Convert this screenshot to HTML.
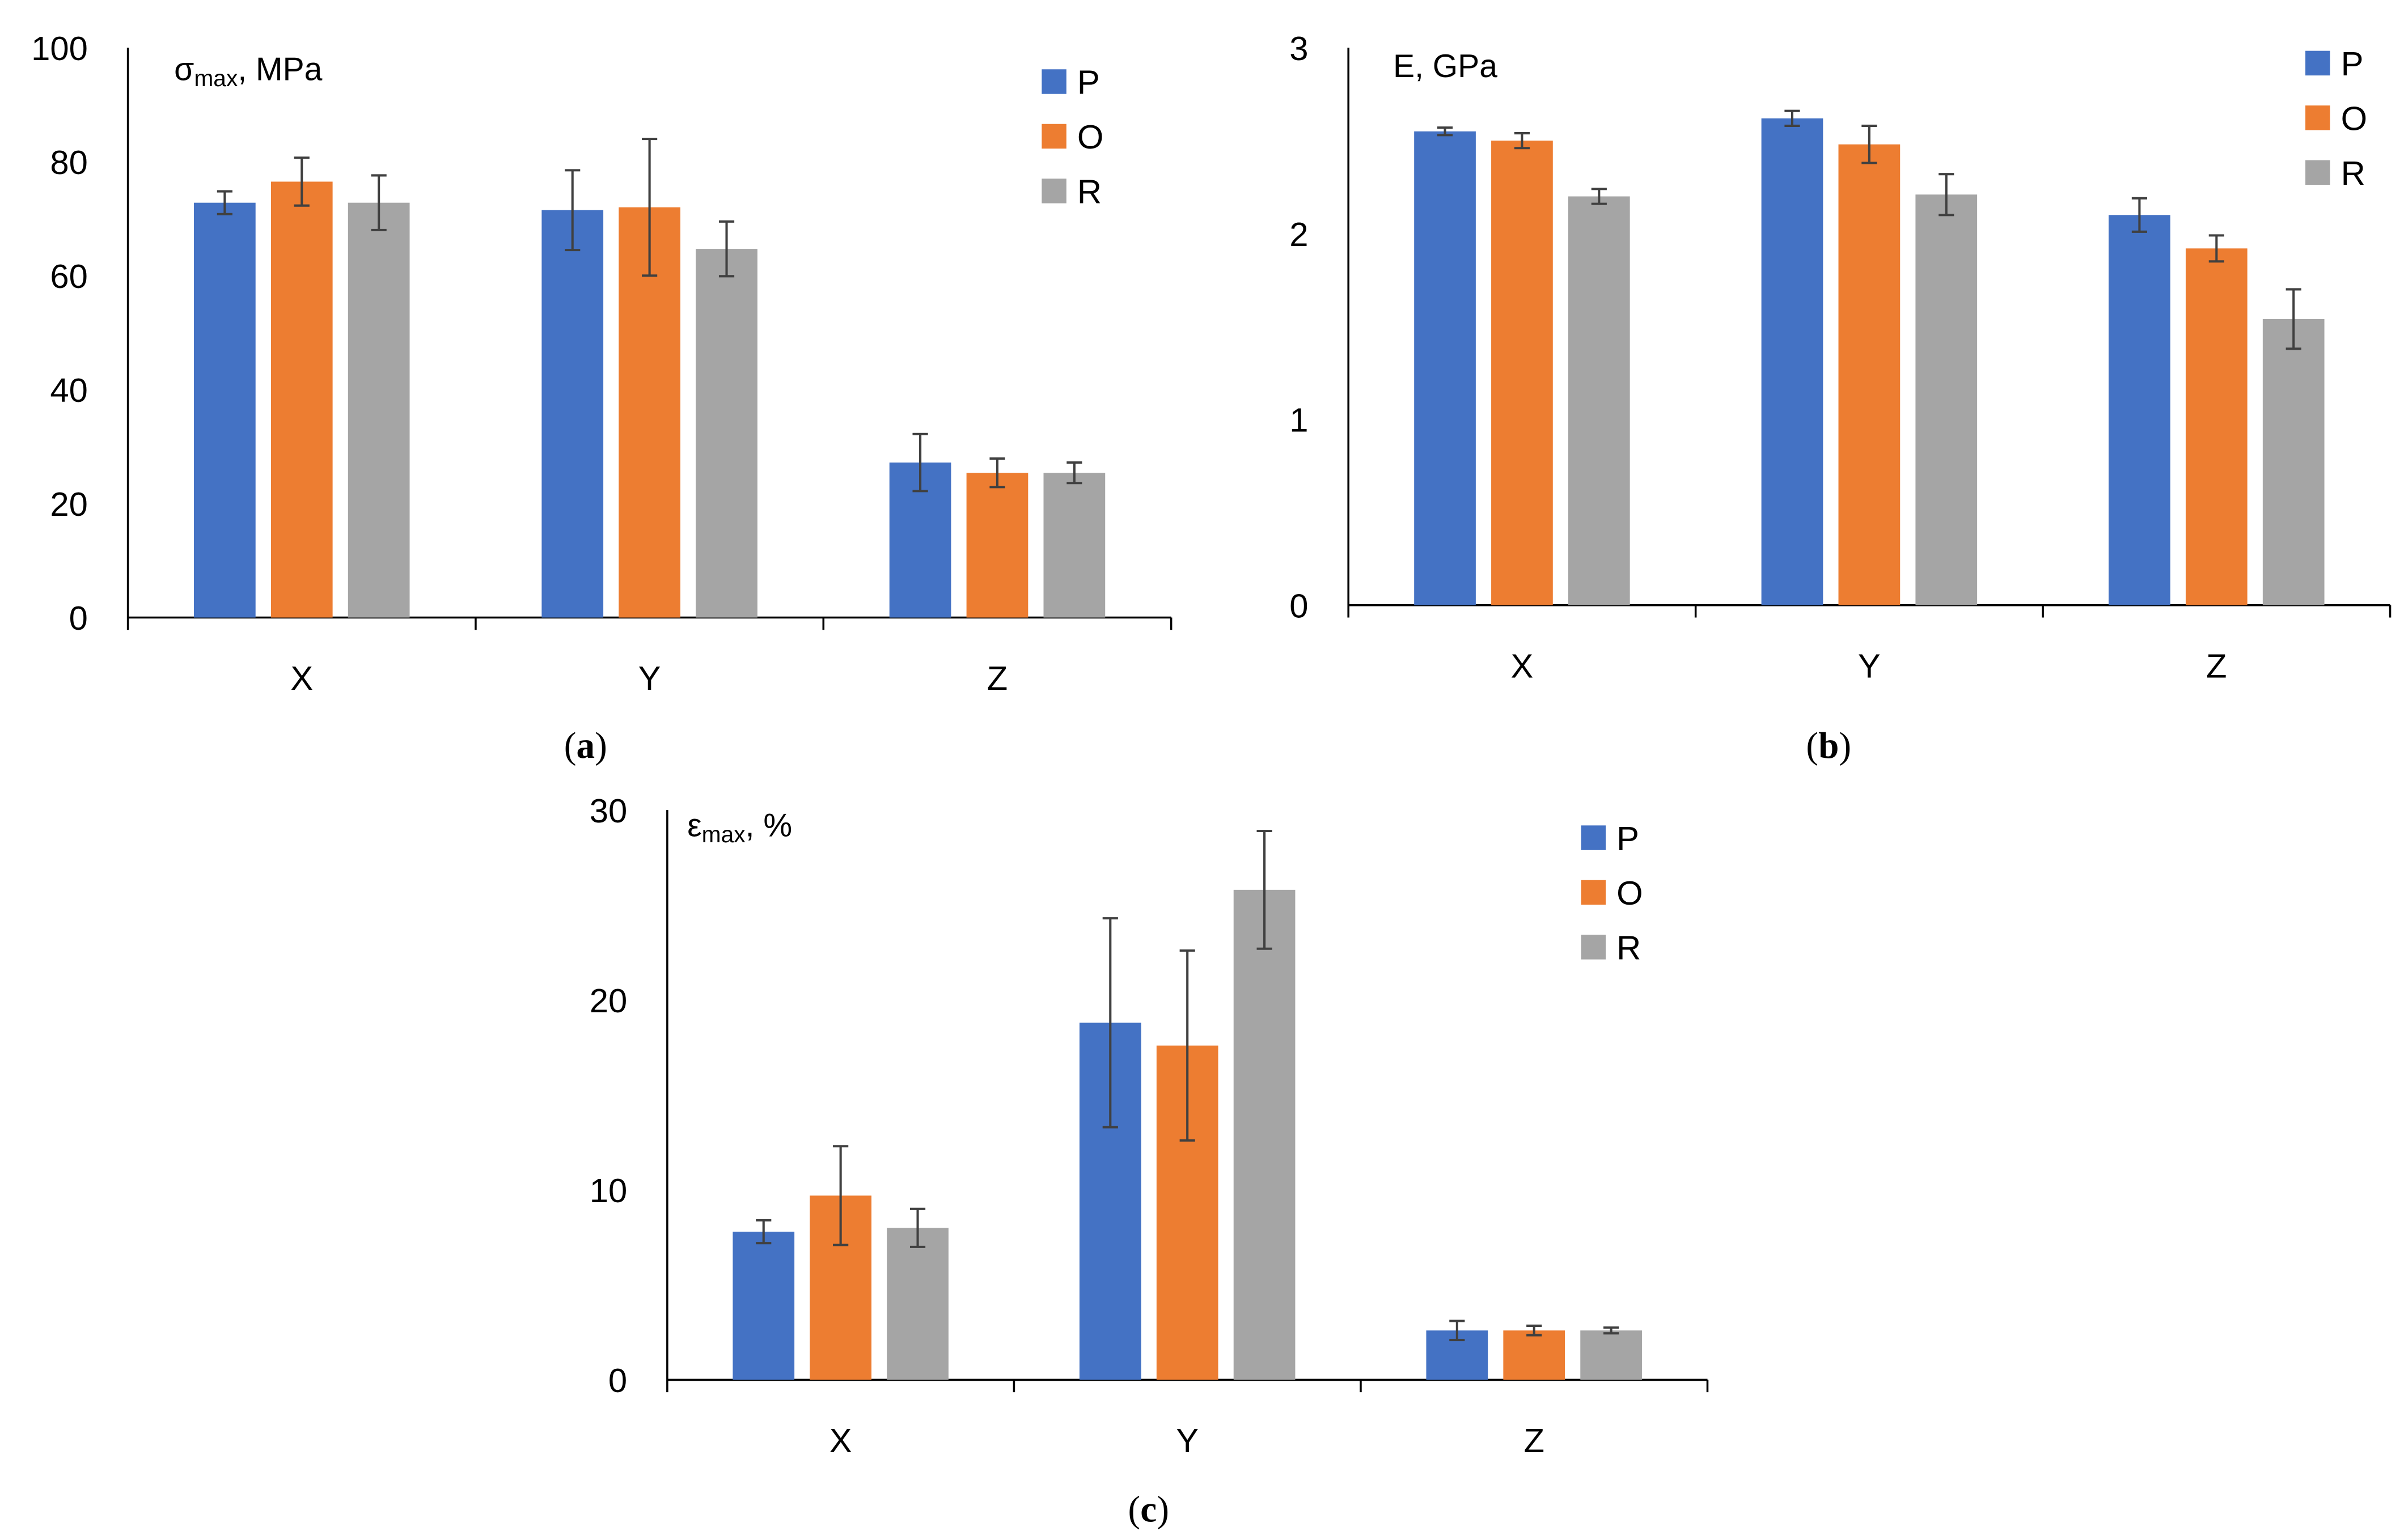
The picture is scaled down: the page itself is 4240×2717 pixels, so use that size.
<!DOCTYPE html>
<html><head><meta charset="utf-8"><style>
html,body{margin:0;padding:0;background:#fff;}
svg{display:block;}
text{font-family:"Liberation Sans",sans-serif;fill:#000;}
.cap{font-family:"Liberation Serif",serif;font-size:24px;}
</style></head><body>
<svg id="fig" width="4240" height="2717" viewBox="0 0 1560 1000" preserveAspectRatio="none" xmlns="http://www.w3.org/2000/svg">
<text class="cap" x="366" y="492">(<tspan font-weight="bold">a</tspan>)</text>
<text class="cap" x="1172" y="492">(<tspan font-weight="bold">b</tspan>)</text>
<text class="cap" x="732" y="988">(<tspan font-weight="bold">c</tspan>)</text>
</svg>
<script>
const categories = ["X","Y","Z"];
const seriesNames = ["P","O","R"];
const colors = ["#4472C4","#ED7D31","#A5A5A5"];
// chart a: sigma max, MPa
const aTicks = [0,20,40,60,80,100];
const aP = [72.8,71.5,27.2], aO = [76.5,72.0,25.4], aR = [72.8,64.7,25.4];
const aPe = [2.0,7.0,5.0], aOe = [4.2,12.0,2.5], aRe = [4.8,4.8,1.8];
// chart b: E, GPa
const bTicks = [0,1,2,3];
const bP = [2.55,2.62,2.10], bO = [2.50,2.48,1.92], bR = [2.20,2.21,1.54];
const bPe = [0.02,0.04,0.09], bOe = [0.04,0.10,0.07], bRe = [0.04,0.11,0.16];
// chart c: epsilon max, %
const cTicks = [0,10,20,30];
const cP = [7.8,18.8,2.6], cO = [9.7,17.6,2.6], cR = [8.0,25.8,2.6];
const cPe = [0.6,5.5,0.5], cOe = [2.6,5.0,0.25], cRe = [1.0,3.1,0.15];

const NS="http://www.w3.org/2000/svg";
const svg=document.getElementById('fig');
function mk(tag,attrs,parent){const e=document.createElementNS(NS,tag);for(const k in attrs)e.setAttribute(k,attrs[k]);(parent||svg).appendChild(e);return e;}

function chart(id,cfg,vals,errs,ticks){
  const g=mk('g',{});
  
  
  const yMax=ticks[ticks.length-1];
  const yS=v=>cfg.y0-(v/yMax)*(cfg.y0-cfg.y1);
  const band=(cfg.x1-cfg.x0)/categories.length;
  const xC=i=>cfg.x0+band*(i+0.5);
  ticks.forEach(t=>{
    const tx=mk('text',{x:cfg.x0-26,y:yS(t)+8,'text-anchor':'end','font-size':22,fill:'#000'},g);
    tx.textContent=t;
    
    
  });
  const ya=mk('line',{x1:cfg.x0,y1:cfg.y1,x2:cfg.x0,y2:cfg.y0,stroke:'#000','stroke-width':1.3},g);
  
  
  const xa=mk('line',{x1:cfg.x0,y1:cfg.y0,x2:cfg.x1,y2:cfg.y0,stroke:'#000','stroke-width':1.3},g);
  
  
  for(let i=0;i<=categories.length;i++){mk('line',{x1:cfg.x0+band*i,x2:cfg.x0+band*i,y1:cfg.y0,y2:cfg.y0+8,stroke:'#000','stroke-width':1.3},g);}
  categories.forEach((c,i)=>{
    const tx=mk('text',{x:xC(i),y:cfg.y0+47,'text-anchor':'middle','font-size':22},g);
    tx.textContent=c;
    
    
  });
  const bw=40, gap=50;
  vals.forEach((arr,s)=>{
    arr.forEach((v,i)=>{
      const cx=xC(i)+(s-1)*gap;
      const r=mk('rect',{x:cx-bw/2,y:yS(v),width:bw,height:cfg.y0-yS(v),fill:colors[s]},g);
      
      
      const e=errs[s][i];
      const eg=mk('g',{stroke:'#404040','stroke-width':1.5},g);
      
      
      mk('line',{x1:cx,x2:cx,y1:yS(v+e),y2:yS(v-e)},eg);
      mk('line',{x1:cx-5,x2:cx+5,y1:yS(v+e),y2:yS(v+e)},eg);
      mk('line',{x1:cx-5,x2:cx+5,y1:yS(v-e),y2:yS(v-e)},eg);
    });
  });
  seriesNames.forEach((n,s)=>{
    const y=cfg.ly+s*35.5;
    const le=mk('g',{},g);
    
    
    mk('rect',{x:cfg.lx,y:y-8,width:16,height:16,fill:colors[s]},le);
    const t=mk('text',{x:cfg.lx+23,y:y+8,'font-size':22},le);
    t.textContent=n;
  });
  return g;
}
const ga=chart('chart-a-sigma',{x0:83,x1:760,y0:401,y1:31,lx:676,ly:53},[aP,aO,aR],[aPe,aOe,aRe],aTicks);
const gb=chart('chart-b-modulus',{x0:875,x1:1551,y0:393,y1:31,lx:1496,ly:41},[bP,bO,bR],[bPe,bOe,bRe],bTicks);
const gc=chart('chart-c-strain',{x0:433,x1:1108,y0:896,y1:526,lx:1026,ly:544},[cP,cO,cR],[cPe,cOe,cRe],cTicks);

let t=mk('text',{x:113,y:52,'font-size':21});


t.innerHTML='σ<tspan font-size="15" dy="4">max</tspan><tspan dy="-4">, MPa</tspan>';
t=mk('text',{x:904,y:50,'font-size':21});


t.textContent='E, GPa';
t=mk('text',{x:446,y:543,'font-size':21,'font-family':'Liberation Serif, serif'});


t.innerHTML='ε<tspan font-size="15" dy="4">max</tspan><tspan dy="-4" font-family="Liberation Sans, sans-serif">, %</tspan>';
</script>
</body></html>
